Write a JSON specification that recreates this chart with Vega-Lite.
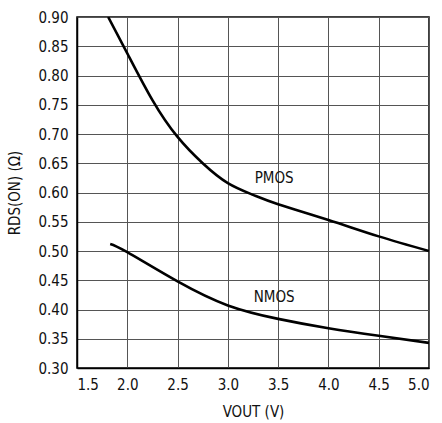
{
  "$schema": "https://vega.github.io/schema/vega-lite/v6.json",
  "autosize": "none",
  "padding": {"left": 77, "top": 17, "right": 13, "bottom": 55},
  "width": 352,
  "height": 351,
  "background": "white",
  "config": {
    "view": {"stroke": "black", "strokeWidth": 1.5},
    "font": "DejaVu Sans Condensed, Liberation Sans, sans-serif",
    "axis": {
      "labelFont": "DejaVu Sans Condensed, Liberation Sans, sans-serif",
      "titleFont": "DejaVu Sans Condensed, Liberation Sans, sans-serif",
      "labelFontSize": 15,
      "titleFontSize": 15,
      "labelColor": "#111",
      "titleColor": "#111",
      "titleFontWeight": "normal",
      "ticks": false,
      "labelOverlap": false,
      "gridColor": "#555",
      "gridWidth": 1,
      "gridOpacity": 1,
      "domainColor": "black",
      "domainWidth": 1.5
    }
  },
  "datasets": {
    "curves": [
      {"series": "PMOS", "v": 1.81, "r": 0.9},
      {"series": "PMOS", "v": 2.0, "r": 0.838},
      {"series": "PMOS", "v": 2.25, "r": 0.758},
      {"series": "PMOS", "v": 2.5, "r": 0.695},
      {"series": "PMOS", "v": 2.75, "r": 0.65},
      {"series": "PMOS", "v": 3.0, "r": 0.616},
      {"series": "PMOS", "v": 3.25, "r": 0.596},
      {"series": "PMOS", "v": 3.5, "r": 0.58},
      {"series": "PMOS", "v": 4.0, "r": 0.553},
      {"series": "PMOS", "v": 4.5, "r": 0.525},
      {"series": "PMOS", "v": 5.0, "r": 0.5},
      {"series": "NMOS", "v": 1.83, "r": 0.512},
      {"series": "NMOS", "v": 2.0, "r": 0.498},
      {"series": "NMOS", "v": 2.5, "r": 0.448},
      {"series": "NMOS", "v": 3.0, "r": 0.407},
      {"series": "NMOS", "v": 3.5, "r": 0.384},
      {"series": "NMOS", "v": 4.0, "r": 0.368},
      {"series": "NMOS", "v": 4.5, "r": 0.355},
      {"series": "NMOS", "v": 5.0, "r": 0.343}
    ],
    "labels": [
      {"label": "PMOS", "v": 3.46, "r": 0.625},
      {"label": "NMOS", "v": 3.46, "r": 0.421}
    ]
  },
  "encoding": {
    "x": {
      "field": "v", "type": "quantitative",
      "scale": {"domain": [1.5, 5.0], "nice": false, "zero": false},
      "axis": {"values": [1.5, 2.0, 2.5, 3.0, 3.5, 4.0, 4.5, 5.0], "format": ".1f", "title": "VOUT (V)", "labelPadding": 9, "titlePadding": 12}
    },
    "y": {
      "field": "r", "type": "quantitative",
      "scale": {"domain": [0.3, 0.9], "nice": false, "zero": false},
      "axis": {"values": [0.3, 0.35, 0.4, 0.45, 0.5, 0.55, 0.6, 0.65, 0.7, 0.75, 0.8, 0.85, 0.9], "format": ".2f", "title": "RDS(ON) (Ω)", "labelPadding": 9, "titlePadding": 15}
    }
  },
  "layer": [
    {
      "data": {"name": "curves"},
      "mark": {"type": "line", "color": "black", "strokeWidth": 2.6, "interpolate": "natural", "clip": true},
      "encoding": {
        "detail": {"field": "series", "type": "nominal"}
      }
    },
    {
      "data": {"name": "labels"},
      "mark": {"type": "text", "fontSize": 15, "font": "DejaVu Sans Condensed, Liberation Sans, sans-serif", "color": "#111", "align": "center", "baseline": "middle"},
      "encoding": {
        "text": {"field": "label", "type": "nominal"}
      }
    }
  ]
}
